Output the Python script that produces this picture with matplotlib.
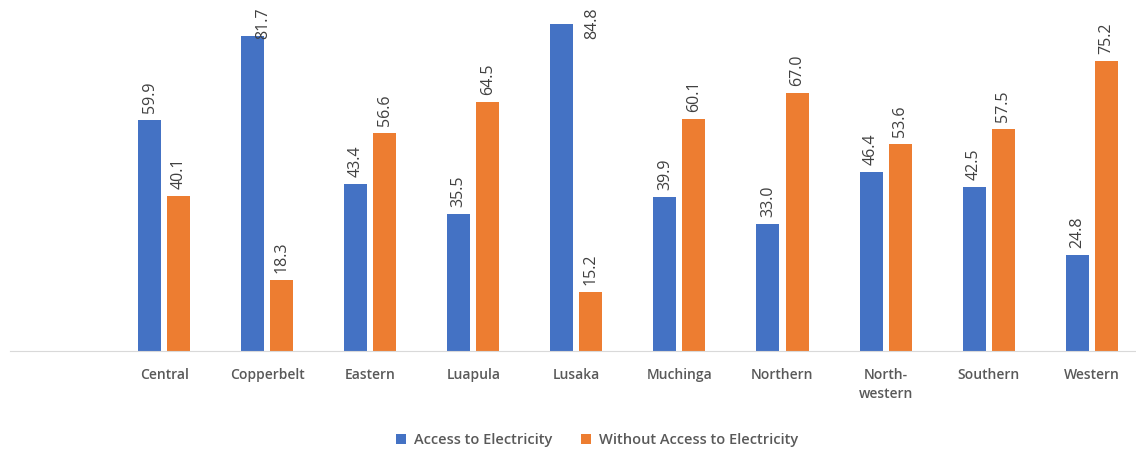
import matplotlib
matplotlib.use("Agg")
import matplotlib.pyplot as plt
import numpy as np

# Share of households by province (%)
provinces = ["Central", "Copperbelt", "Eastern", "Luapula", "Lusaka",
             "Muchinga", "Northern", "North-\nwestern", "Southern", "Western"]
access = [59.9, 81.7, 43.4, 35.5, 84.8, 39.9, 33.0, 46.4, 42.5, 24.8]
no_access = [40.1, 18.3, 56.6, 64.5, 15.2, 60.1, 67.0, 53.6, 57.5, 75.2]

BLUE = "#4472C4"
ORANGE = "#ED7D31"
TEXT = "#595959"

plt.rcParams["font.family"] = ["Open Sans", "DejaVu Sans"]

fig = plt.figure(figsize=(11.36, 4.5), dpi=100)
ax = fig.add_axes([9.5 / 1136, 1 - 351 / 450, 1126.5 / 1136, 351 / 450])

x = np.arange(len(provinces))
w = 0.223
off = 0.141
ax.bar(x - off, access, w, color=BLUE, label="Access to Electricity")
ax.bar(x + off, no_access, w, color=ORANGE, label="Without Access to Electricity")

ax.set_xlim(-1.5, 9.43)
ax.set_ylim(0, 91)

# value labels, rotated; the tallest ones are pushed aside near the top
ymax = 91
for xs, vals in ((x - off, access), (x + off, no_access)):
    for xi, v in zip(xs, vals):
        lx, ly, va = xi, v + 1.8, "bottom"
        if v + 10 > ymax:
            lx = xi + (0.1 if v < 83 else 0.3)
            ly = ymax - 2.0
            va = "top"
        ax.text(lx, ly, f"{v:.1f}", rotation=90, ha="center", va=va,
                fontsize=11.5, color="#404040")

for s in ("top", "left", "right"):
    ax.spines[s].set_visible(False)
ax.spines["bottom"].set_color("#D9D9D9")
ax.spines["bottom"].set_linewidth(0.8)
ax.set_yticks([])
ax.set_xticks(x)
ax.set_xticklabels(provinces, fontsize=10, color=TEXT, fontweight="semibold",
                   va="top", linespacing=1.5)
ax.tick_params(axis="x", length=0, pad=12)

fig.legend(loc="center", bbox_to_anchor=(597 / 1136, 1 - 440 / 450), ncol=2,
           frameon=False, handlelength=0.7, handleheight=0.7,
           columnspacing=2.0, handletextpad=0.5, labelcolor=TEXT,
           prop={"weight": "semibold", "size": 10.5})

fig.savefig("out.png", dpi=100)
